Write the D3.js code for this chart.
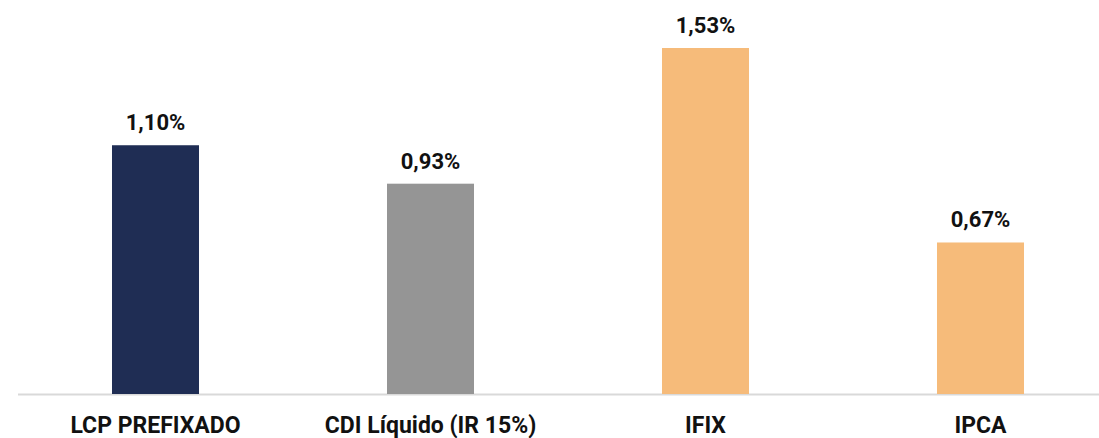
<!DOCTYPE html>
<html><head><meta charset="utf-8">
<script src="https://cdn.jsdelivr.net/npm/d3@7"></script>
<style>body{margin:0;background:#fff;} svg{display:block;}</style>
</head><body>
<script>
const categories = ["LCP PREFIXADO", "CDI Líquido (IR 15%)", "IFIX", "IPCA"];
const values = [1.10, 0.93, 1.53, 0.67];
const valueLabels = ["1,10%", "0,93%", "1,53%", "0,67%"];
const colors = ["#1f2d54", "#959595", "#f6bb7a", "#f6bb7a"];

const W = 1099, H = 438;
const svg = d3.select("body").append("svg").attr("width", W).attr("height", H);
const x = d3.scaleBand().domain(categories).range([18, 1118]).paddingInner(0.6836).paddingOuter(0.3418);
const y = d3.scaleLinear().domain([0, 1.53]).range([394, 48]);

svg.append("line").attr("x1", 18).attr("x2", W).attr("y1", y(0) + 0.5).attr("y2", y(0) + 0.5)
  .attr("stroke", "#d9d9d9").attr("stroke-width", 2);

svg.selectAll("rect.bar").data(categories).join("rect").attr("class", "bar")
  .attr("x", d => x(d)).attr("width", x.bandwidth())
  .attr("y", (d, i) => y(values[i])).attr("height", (d, i) => y(0) - y(values[i]))
  .attr("fill", (d, i) => colors[i]);

svg.selectAll("text.val").data(categories).join("text").attr("class", "val")
  .attr("x", d => x(d) + x.bandwidth() / 2).attr("y", (d, i) => y(values[i]) - 15)
  .attr("text-anchor", "middle").attr("font-family", "Roboto").attr("font-weight", "bold")
  .attr("font-size", 22).attr("fill", "#111")
  .text((d, i) => valueLabels[i]);

svg.selectAll("text.cat").data(categories).join("text").attr("class", "cat")
  .attr("x", d => x(d) + x.bandwidth() / 2).attr("y", 433)
  .attr("text-anchor", "middle").attr("font-family", "Roboto").attr("font-weight", "bold")
  .attr("font-size", 23).attr("fill", "#111").attr("letter-spacing", 0)
  .text(d => d);
</script>
</body></html>
